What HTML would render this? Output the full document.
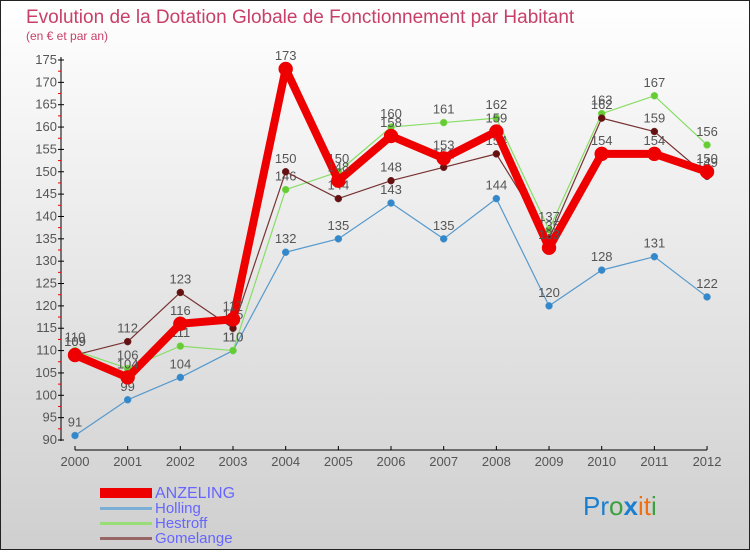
<!DOCTYPE html>
<html><head><meta charset="utf-8"><style>
body{margin:0;width:750px;height:550px;overflow:hidden;font-family:"Liberation Sans",sans-serif}
svg text{font-family:"Liberation Sans",sans-serif}
</style></head><body>
<svg width="750" height="550">
<defs><linearGradient id="bg" x1="0" y1="0" x2="0" y2="1"><stop offset="0" stop-color="#ffffff"/><stop offset="1" stop-color="#cfcfcf"/></linearGradient></defs>
<rect x="0.5" y="0.5" width="749" height="549" fill="url(#bg)" stroke="#222"/>
<text x="26" y="23" font-size="19" fill="#c8406a">Evolution de la Dotation Globale de Fonctionnement par Habitant</text>
<text x="26" y="40" font-size="12" fill="#c8406a">(en € et par an)</text>
<g id="axes"></g><g id="series"></g>
<g>
<rect x="100" y="488" width="52" height="10" fill="#e00"/>
<text x="155" y="498" font-size="16" fill="#6666ff">ANZELING</text>
<rect x="100" y="507" width="52" height="3" fill="#7aaed4"/>
<text x="155" y="513" font-size="15" fill="#6666ff">Holling</text>
<rect x="100" y="522" width="52" height="3" fill="#99dd77"/>
<text x="155" y="528" font-size="15" fill="#6666ff">Hestroff</text>
<rect x="100" y="537" width="52" height="3" fill="#996666"/>
<text x="155" y="543" font-size="15" fill="#6666ff">Gomelange</text>
</g>
<g font-size="26">
<text x="583" y="515"><tspan fill="#1a7fd0">Pr</tspan><tspan fill="#3aa040">o</tspan><tspan fill="#1a7fd0" font-weight="bold">x</tspan><tspan fill="#f07010">it</tspan><tspan fill="#3aa040">i</tspan></text>
</g>
</svg>
<script>
const years=["2000","2001","2002","2003","2004","2005","2006","2007","2008","2009","2010","2011","2012"];
const anzeling=[109,104,116,117,173,148,158,153,159,133,154,154,150];
const holling=[91,99,104,110,132,135,143,135,144,120,128,131,122];
const hestroff=[110,106,111,110,146,150,160,161,162,137,163,167,156];
const gomelange=[109,112,123,115,150,144,148,151,154,135,162,159,149];
const yTicks=[90,95,100,105,110,115,120,125,130,135,140,145,150,155,160,165,170,175];
const NS="http://www.w3.org/2000/svg";
const X=i=>75+i*52.67, Y=v=>440-(v-90)*(380/85);
function mk(t,a,p){const e=document.createElementNS(NS,t);for(const k in a)e.setAttribute(k,a[k]);p.appendChild(e);return e;}
const ax=document.getElementById('axes');
let l=mk('line',{x1:61,y1:57,x2:61,y2:441,stroke:'#000'},ax);


l=mk('line',{x1:75,y1:450,x2:707,y2:450,stroke:'#000'},ax);


yTicks.forEach(v=>{
 mk('line',{x1:58,y1:Y(v),x2:64,y2:Y(v),stroke:'#000'},ax);
 if(v<175) mk('line',{x1:58,y1:Y(v+2.5),x2:61,y2:Y(v+2.5),stroke:'#e00'},ax);
 const t=mk('text',{x:57,y:Y(v)+4,'font-size':13,fill:'#555','text-anchor':'end'},ax);t.textContent=v;
 
 
});
years.forEach((y,i)=>{
 mk('line',{x1:X(i),y1:446,x2:X(i),y2:450,stroke:'#000'},ax);
 const t=mk('text',{x:X(i),y:466,'font-size':13,fill:'#555','text-anchor':'middle'},ax);t.textContent=y;
 
 
});
const sg=document.getElementById('series');
function draw(name,data,col,dot,w,r){
 const g=mk('g',{},sg);
 
 
 mk('polyline',{points:data.map((v,i)=>X(i)+','+Y(v)).join(' '),fill:'none',stroke:col,'stroke-width':w,'stroke-linejoin':'round'},g);
 data.forEach((v,i)=>{
  const c=mk('circle',{cx:X(i),cy:Y(v),r:r,fill:dot,stroke:col,'stroke-width':0.5},g);
  
  
  const t=mk('text',{x:X(i),y:Y(v)-9,'font-size':13,fill:'#555','text-anchor':'middle'},g);t.textContent=v;
 });
}
draw('holling',holling,'#5599cc','#3388cc',1.2,3.5);
draw('hestroff',hestroff,'#88dd66','#66cc33',1.2,3.5);
draw('gomelange',gomelange,'#773333','#661111',1.2,3.5);
draw('anzeling',anzeling,'#ee0000','#ee0000',8,7);
</script>
</body></html>
